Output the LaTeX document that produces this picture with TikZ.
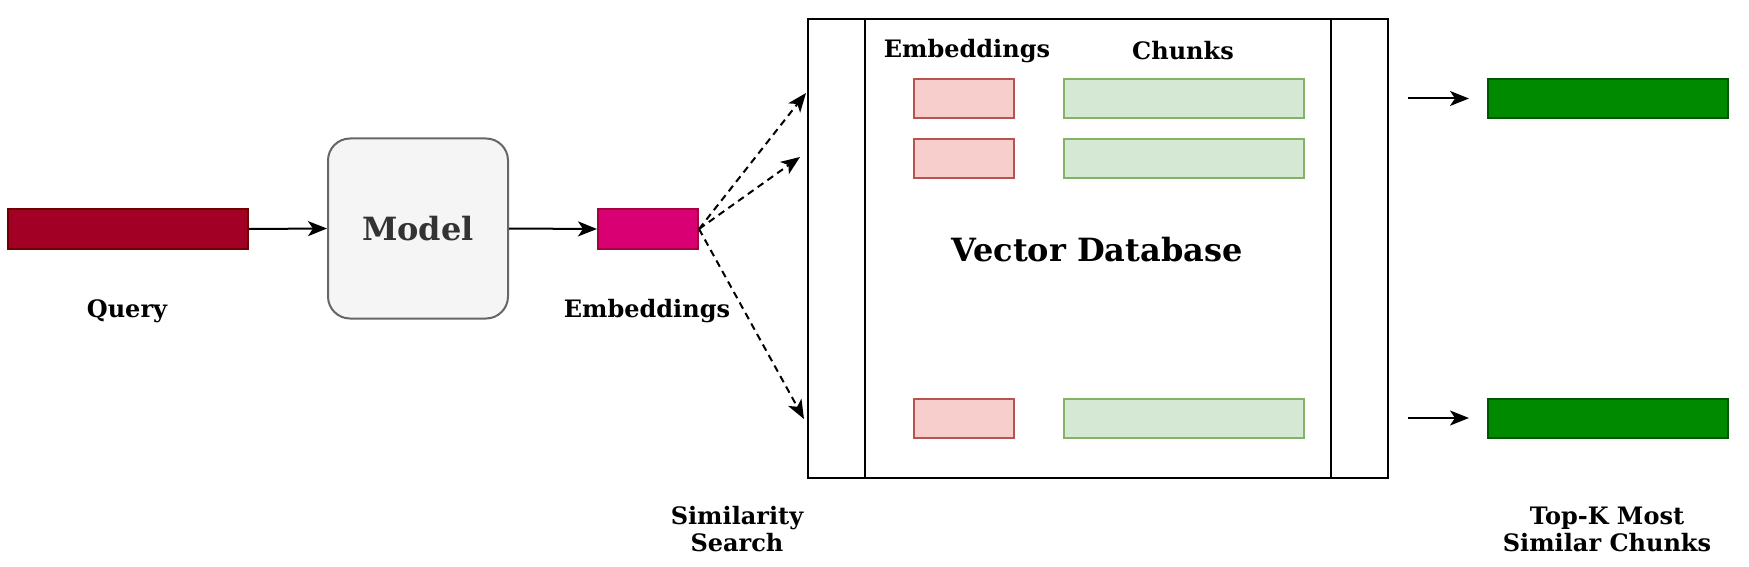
\documentclass[tikz,border=0pt]{standalone}
\usepackage{fontspec}
\setmainfont{DejaVu Serif}
\usetikzlibrary{arrows.meta}
\definecolor{qfill}{HTML}{A20025}
\definecolor{qdraw}{HTML}{6F0000}
\definecolor{efill}{HTML}{D80073}
\definecolor{edraw}{HTML}{A50040}
\definecolor{pfill}{HTML}{F8CECC}
\definecolor{pdraw}{HTML}{B85450}
\definecolor{lgfill}{HTML}{D5E8D4}
\definecolor{lgdraw}{HTML}{82B366}
\definecolor{dgfill}{HTML}{008A00}
\definecolor{dgdraw}{HTML}{005700}
\definecolor{mfill}{HTML}{F5F5F5}
\definecolor{mdraw}{HTML}{666666}
\definecolor{mtext}{HTML}{333333}
\tikzset{
  bar/.style={draw, line width=2pt, inner sep=0pt, minimum height=39pt},
  lbl/.style={font=\fontsize{24}{27}\selectfont\bfseries, align=center, inner sep=0pt},
  biglbl/.style={font=\fontsize{32}{36}\selectfont\bfseries, align=center, inner sep=0pt},
  arr/.style={line width=2pt, -{Stealth[length=19pt,width=15pt,inset=5pt]}},
  darr/.style={arr, dash pattern=on 7pt off 5pt}
}
\begin{document}
\begin{tikzpicture}[x=1pt,y=-1pt]
\useasboundingbox (0,0) rectangle (1749,567);
% left chain
\node[bar, fill=qfill, draw=qdraw, minimum width=240pt, minimum height=40pt] (query) at (128,229) {};
\node[draw=mdraw, fill=mfill, line width=2pt, rounded corners=22pt, minimum width=180pt, minimum height=180pt, inner sep=0pt, font=\fontsize{32}{36}\selectfont\bfseries, text=mtext] (model) at (418,228.5) {Model};
\node[bar, fill=efill, draw=edraw, minimum width=100pt, minimum height=40pt] (emb) at (648,229) {};
\node[lbl] (qlbl) at (127,311) {Query};
\node[lbl] (elbl) at (647,311) {Embeddings};
\draw[arr] (query.east) -- (model.west);
\draw[arr] (model.east) -- (emb.west);
% database
\node[draw, line width=2pt, minimum width=580pt, minimum height=459pt, inner sep=0pt] (db) at (1098,248.5) {};
\draw[line width=2pt] ([xshift=58pt]db.north west) -- ([xshift=58pt]db.south west);
\draw[line width=2pt] ([xshift=-58pt]db.north east) -- ([xshift=-58pt]db.south east);
\node[lbl] (hemb) at (967,51) {Embeddings};
\node[lbl] (hchk) at (1183,51) {Chunks};
\node[biglbl] (dblbl) at (1097,250) {Vector Database};
\node[bar, fill=pfill, draw=pdraw, minimum width=100pt] (p1) at (964,98.5) {};
\node[bar, fill=pfill, draw=pdraw, minimum width=100pt] (p2) at (964,158.5) {};
\node[bar, fill=pfill, draw=pdraw, minimum width=100pt] (p3) at (964,418) {};
\node[bar, fill=lgfill, draw=lgdraw, minimum width=240pt] (g1) at (1184,98.5) {};
\node[bar, fill=lgfill, draw=lgdraw, minimum width=240pt] (g2) at (1184,158.5) {};
\node[bar, fill=lgfill, draw=lgdraw, minimum width=240pt] (g3) at (1184,418) {};
% similarity search arrows
\coordinate (d1) at (806,93);
\coordinate (d2) at (800,157);
\coordinate (d3) at (804,419);
\draw[darr] (emb.east) -- (d1);
\draw[darr] (emb.east) -- (d2);
\draw[darr] (emb.east) -- (d3);
\node[lbl] (sim) at (737,529) {Similarity\\Search};
% results
\coordinate (r1s) at (1408,98.5);
\coordinate (r1e) at (1469,98.5);
\coordinate (r2s) at (1408,418);
\coordinate (r2e) at (1469,418);
\draw[arr] (r1s) -- (r1e);
\draw[arr] (r2s) -- (r2e);
\node[bar, fill=dgfill, draw=dgdraw, minimum width=240pt] (k1) at (1608,98.5) {};
\node[bar, fill=dgfill, draw=dgdraw, minimum width=240pt] (k2) at (1608,418) {};
\node[lbl] (topk) at (1607,529) {Top-K Most\\Similar Chunks};
\end{tikzpicture}
\end{document}
